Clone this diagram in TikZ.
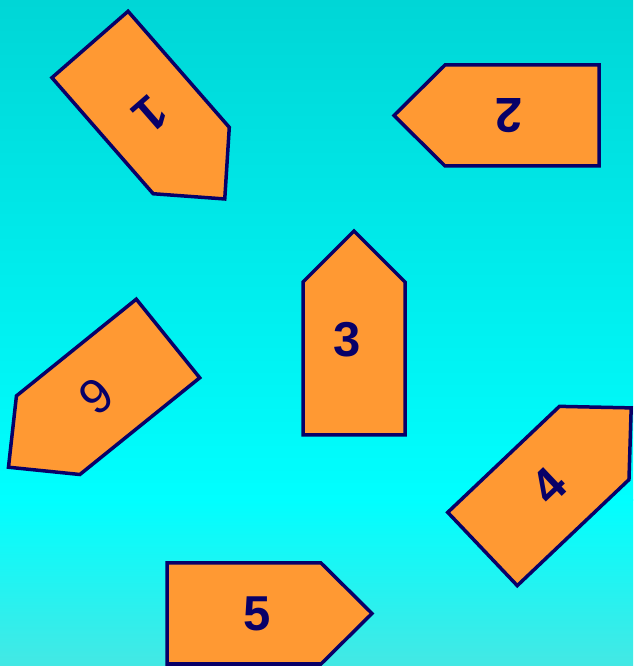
\documentclass[tikz,border=0pt]{standalone}
\usepackage{fontspec}
\setmainfont{Liberation Sans}
\definecolor{navy}{RGB}{8,0,104}
\definecolor{tagfill}{RGB}{255,153,51}
\definecolor{bgtop}{RGB}{0,214,214}
\definecolor{bgmid}{RGB}{0,255,255}
\definecolor{bgbot}{RGB}{68,232,228}
\begin{document}
\begin{tikzpicture}[x=1pt,y=1pt,
  tagshape/.style={draw=navy, fill=tagfill, line width=3.5pt, line join=miter},
  taglabel/.style={text=navy, font=\fontsize{49}{49}\selectfont\bfseries, inner sep=0pt},
  taglabelthin/.style={text=navy, font=\fontsize{49}{49}\selectfont, inner sep=0pt}]
\useasboundingbox (0,0) rectangle (633,666);
\shade[top color=bgtop, bottom color=bgmid] (0,165.5) rectangle (633,666);
\shade[top color=bgmid, bottom color=bgbot] (0,0) rectangle (633,166.5);
% tag 1
\begin{scope}[shift={(90,621.5)}, rotate=-48.9]
  \draw[tagshape] (0,-50.5) -- (154,-50.5) -- (205,0) -- (154,50.5) -- (0,50.5) -- cycle;
  \node[taglabel, rotate=-138.9] (t1) at (92,0) {1};
\end{scope}
% tag 2
\begin{scope}[shift={(599,550.5)}, rotate=180]
  \draw[tagshape] (0,-50.5) -- (154,-50.5) -- (205,0) -- (154,50.5) -- (0,50.5) -- cycle;
  \node[taglabel, rotate=180] (t2) at (90,0) {2};
\end{scope}
% tag 3
\begin{scope}[shift={(354,231)}, rotate=90]
  \draw[tagshape] (0,-51) -- (153,-51) -- (204,0) -- (153,51) -- (0,51) -- cycle;
  \node[taglabel] (t3) at (95,7) {3};
\end{scope}
% tag 4
\begin{scope}[shift={(482.5,117)}, rotate=43.5]
  \draw[tagshape] (0,-50.5) -- (154,-50.5) -- (205,0) -- (154,50.5) -- (0,50.5) -- cycle;
  \node[taglabel, rotate=43.5] (t4) at (92,0) {4};
\end{scope}
% tag 5
\begin{scope}[shift={(167,52.5)}]
  \draw[tagshape] (0,-50.5) -- (154,-50.5) -- (205,0) -- (154,50.5) -- (0,50.5) -- cycle;
  \node[taglabel] (t5) at (90,0) {5};
\end{scope}
% tag 6
\begin{scope}[shift={(168,327.5)}, rotate=218.9]
  \draw[tagshape] (0,-50.5) -- (154,-50.5) -- (205,0) -- (154,50.5) -- (0,50.5) -- cycle;
  \node[taglabelthin, rotate=218.9] (t6) at (92,0) {6};
\end{scope}
\end{tikzpicture}
\end{document}
